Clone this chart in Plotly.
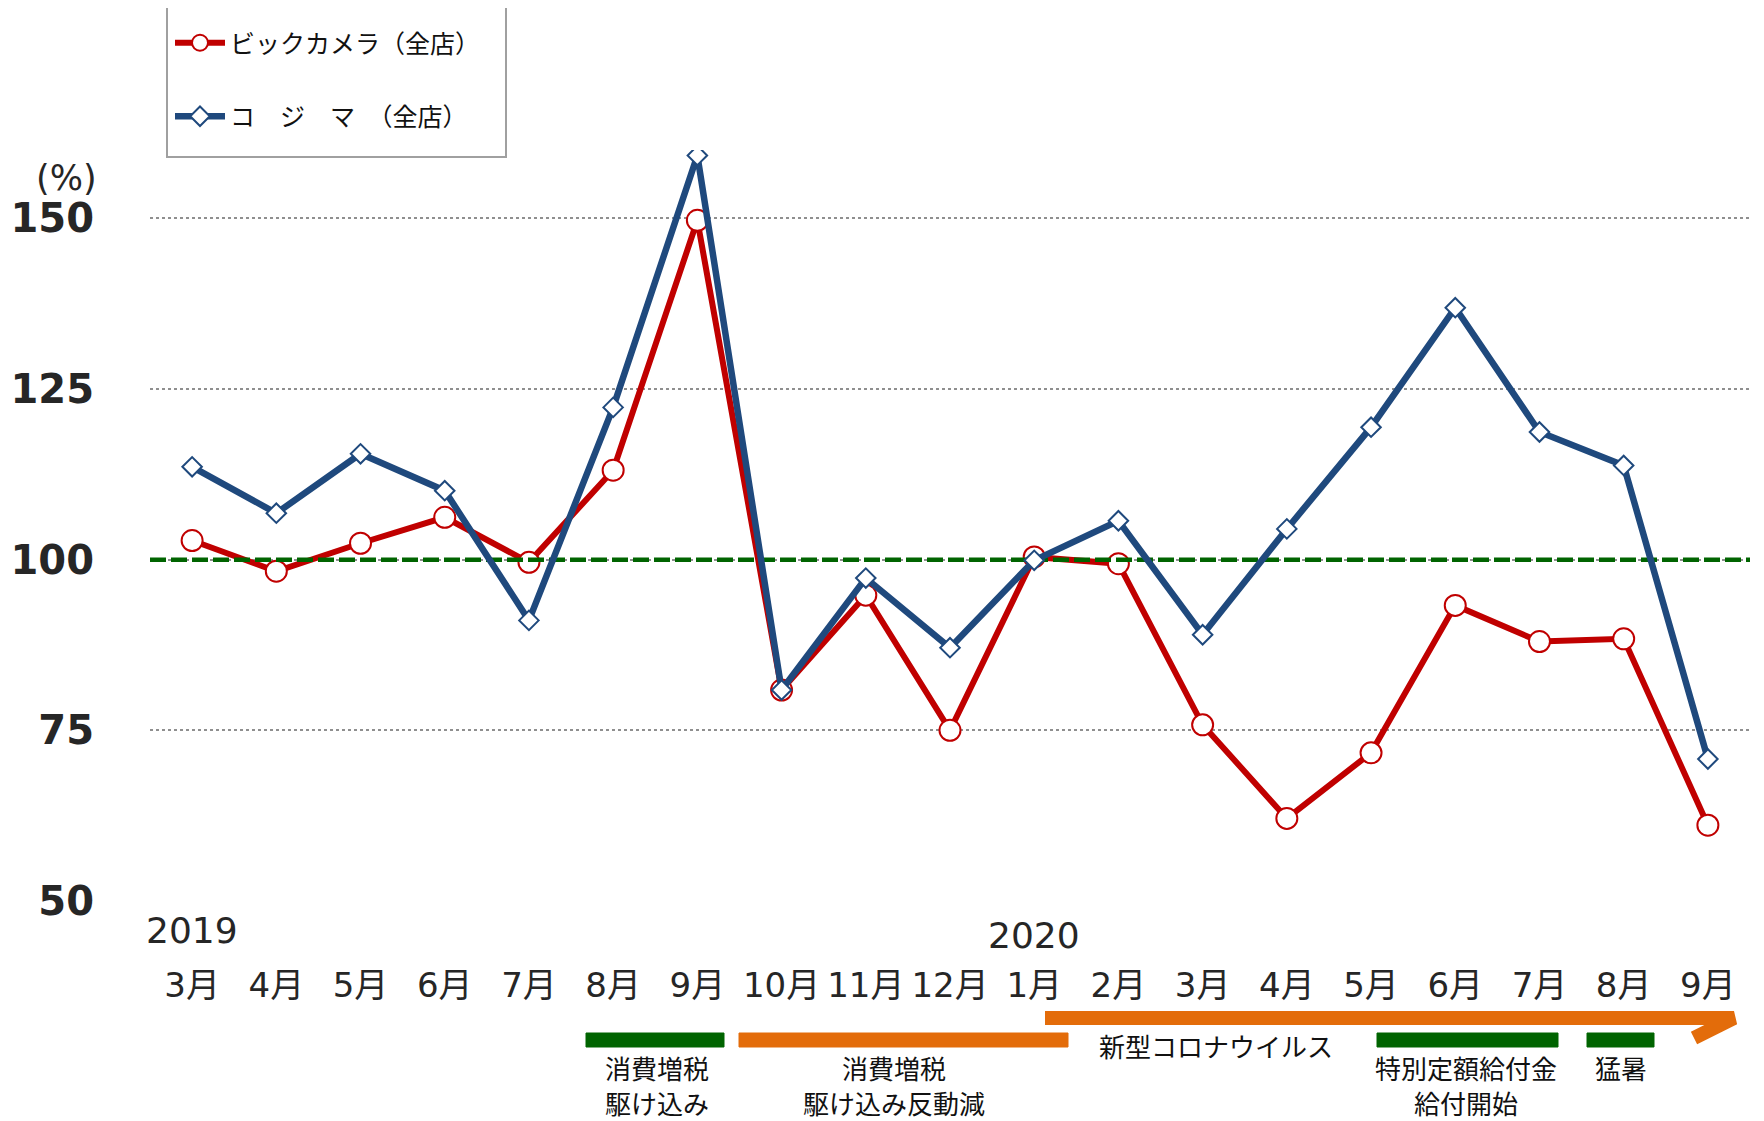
import plotly.graph_objects as go

# ---------------- data ----------------
months = ["3月", "4月", "5月", "6月", "7月", "8月", "9月", "10月", "11月", "12月",
          "1月", "2月", "3月", "4月", "5月", "6月", "7月", "8月", "9月"]
years = ["2019", "2020"]
year_start_index = [0, 10]
bic_camera = [102.8, 98.3, 102.4, 106.2, 99.6, 113.1, 149.7, 80.9, 94.8, 75.0,
              100.4, 99.4, 75.8, 62.1, 71.7, 93.3, 88.0, 88.4, 61.1]
kojima = [113.6, 106.8, 115.5, 110.1, 91.1, 122.3, 159.2, 80.9, 97.3, 87.1,
          99.9, 105.7, 89.0, 104.5, 119.4, 136.9, 118.7, 113.8, 70.8]
series_names = ["ビックカメラ（全店）", "コ　ジ　マ　（全店）"]
reference_level = 100
y_ticks = [50, 75, 100, 125, 150]
event_notes = [["消費増税", "駆け込み"], ["消費増税", "駆け込み反動減"], ["新型コロナウイルス"],
               ["特別定額給付金", "給付開始"], ["猛暑"]]

# ---------------- geometry helpers (target pixel -> paper) ----------------
OFF = 8                      # page body margin
W, H = 1764 - OFF, 1121 - OFF
PL, PR, PT, PB = 150, 1750, 150, 901   # plot area in target pixels
L = PL - OFF
T = PT - OFF
R = W - (PR - OFF)
B = H - (PB - OFF)
PW, PH = PR - PL, PB - PT


def px(x):
    return (x - PL) / PW


def py(y):
    return (PB - y) / PH


idx = list(range(len(months)))
JP = "Noto Sans CJK JP"
NUM = "DejaVu Sans, Noto Sans CJK JP"
TXT = "#262626"

fig = go.Figure()

fig.add_trace(go.Scatter(
    x=idx, y=bic_camera, name=series_names[0], mode="lines+markers",
    legendgroup="a",
    line=dict(color="#C00000", width=6),
    marker=dict(symbol="circle", size=21, color="white",
                line=dict(color="#C00000", width=2)),
))
fig.add_trace(go.Scatter(
    x=[idx[0] - 0.5, idx[-1] + 0.5], y=[reference_level] * 2, mode="lines",
    showlegend=False, hoverinfo="skip",
    line=dict(color="#006400", width=4.5, dash="16px,5px"),
))
fig.add_trace(go.Scatter(
    x=idx, y=kojima, name=series_names[1], mode="lines+markers",
    legendgroup="b",
    line=dict(color="#1F497D", width=6.5),
    marker=dict(symbol="diamond", size=15, color="white",
                line=dict(color="#1F497D", width=2)),
))

shapes = []
annotations = []

# legend frame
shapes.append(dict(type="rect", xref="paper", yref="paper",
                   x0=px(167), x1=px(506), y0=py(157), y1=py(5),
                   fillcolor="white", line=dict(color="#A0A0A0", width=2),
                   layer="below"))

# event bars
green = "#006400"
orange = "#E36C0A"
for x0, x1, col in [(586, 724, green), (739, 1068, orange),
                    (1377, 1558, green), (1587, 1654, green)]:
    shapes.append(dict(type="rect", xref="paper", yref="paper",
                       x0=px(x0), x1=px(x1), y0=py(1047), y1=py(1033),
                       fillcolor=col, line=dict(color=col, width=1)))
# corona arrow
shapes.append(dict(type="path", xref="paper", yref="paper",
                   path=f"M {px(1045)},{py(1018)} L {px(1734)},{py(1018)} L {px(1694)},{py(1038)}",
                   line=dict(color=orange, width=14)))

# event texts (one annotation per line)
for lines, xc, y_first, fs in [(event_notes[0], 657, 1067, 26), (event_notes[1], 894, 1067, 26),
                               (event_notes[2], 1216, 1045, 26), (event_notes[3], 1466, 1067, 26),
                               (event_notes[4], 1621, 1067, 26)]:
    for k, line in enumerate(lines):
        annotations.append(dict(text=line, xref="paper", yref="paper",
                                x=px(xc), y=py(y_first + 35 * k),
                                xanchor="center", yanchor="middle",
                                showarrow=False, align="center",
                                font=dict(family=JP, size=fs, color="#111111")))

# year labels
for yr, i, yc in zip(years, year_start_index, [930, 936]):
    annotations.append(dict(text=yr, xref="x", yref="paper", x=i, y=py(yc),
                            xanchor="center", yanchor="middle", showarrow=False,
                            font=dict(family=NUM, size=36, color=TXT)))

# unit label
annotations.append(dict(text="(%)", xref="paper", yref="paper", x=px(99), y=py(178),
                        xanchor="right", yanchor="middle", showarrow=False,
                        font=dict(family=NUM, size=35, color=TXT)))

fig.update_layout(
    width=W, height=H, autosize=False,
    margin=dict(l=L, r=R, t=T, b=B),
    paper_bgcolor="white", plot_bgcolor="white",
    shapes=shapes, annotations=annotations,
    showlegend=True,
    legend=dict(x=px(170), y=py(20), xanchor="left", yanchor="top",
                bgcolor="rgba(0,0,0,0)", borderwidth=0,
                font=dict(family=JP, size=25, color="#111111"),
                traceorder="grouped", tracegroupgap=38,
                itemwidth=50),
    xaxis=dict(range=[-0.5, len(months) - 0.5], tickmode="array", tickvals=idx,
               ticktext=months, showgrid=False, zeroline=False, showline=False,
               ticks="", ticklabelstandoff=61, automargin=False,
               tickfont=dict(family=NUM, size=34, color=TXT)),
    yaxis=dict(range=[50, 160], tickmode="array", tickvals=y_ticks,
               showgrid=True, gridcolor="#8F8F8F", griddash="dot", gridwidth=1.5,
               zeroline=False, showline=False, ticks="", ticklabelstandoff=55,
               automargin=False,
               tickfont=dict(family="DejaVu Sans", size=40, color=TXT, weight="bold")),
)

fig.write_html("out.html")
